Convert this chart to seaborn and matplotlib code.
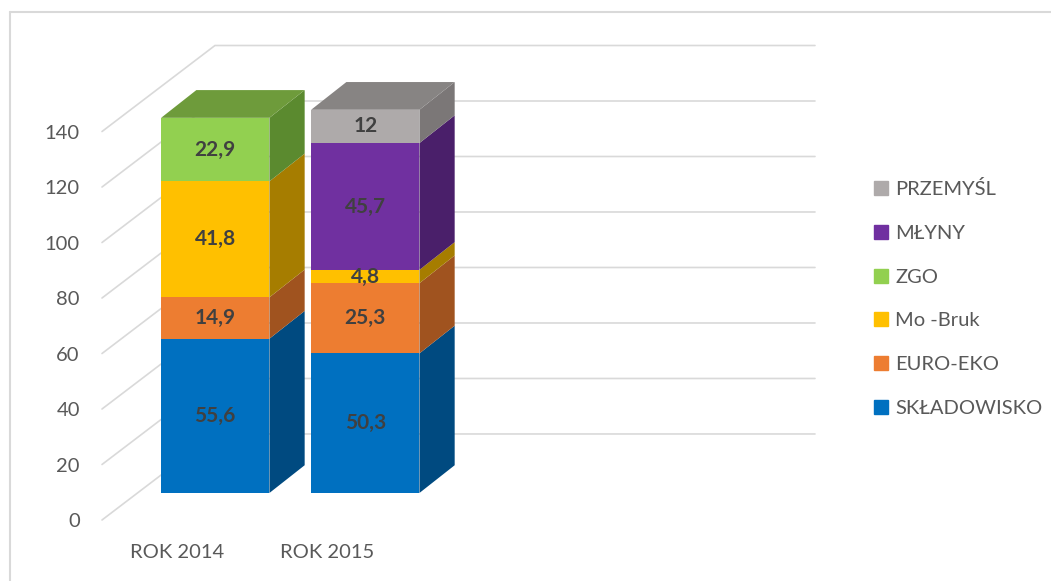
import numpy as np
import pandas as pd
import matplotlib.pyplot as plt
import matplotlib.patches as mpatches
import seaborn as sns

# --- DATA ---
categories = ['ROK 2014', 'ROK 2015', '', '']
series = ['SKŁADOWISKO', 'EURO-EKO', 'Mo -Bruk', 'ZGO', 'MŁYNY', 'PRZEMYŚL']
values_2014 = [55.6, 14.9, 41.8, 22.9, 0, 0]
values_2015 = [50.3, 25.3, 4.8, 0, 45.7, 12]
yticks = [0, 20, 40, 60, 80, 100, 120, 140]

front_colors = ['#0070C0', '#ED7D31', '#FFC000', '#92D050', '#7030A0', '#AEAAAA']
side_colors = ['#004A80', '#A0531F', '#A67D00', '#5B8A2F', '#4A1F6A', '#7B7777']
top_colors = ['#0060A8', '#C96A29', '#D9A300', '#6E9B3B', '#5A2785', '#878483']

# --- 3D-ish geometry (data units) ---
DEPTH_X, DEPTH_Y = 0.753, 31.0    # full floor depth offset
BAR_T = 0.314                     # bar front sits this far back, and is this deep
SHIFT_X, SHIFT_Y = 0.255, DEPTH_Y * BAR_T
DDX, DDY = 0.235, 10.0            # side face offset
BAR_W = 0.722

sns.set_theme(style='white')
plt.rcParams['font.family'] = ['Lato', 'DejaVu Sans']

fig = plt.figure(figsize=(10.51, 5.81), dpi=100)
ax = fig.add_axes([102 / 1051, 61 / 581, 713 / 1051, 474.5 / 581])

table = pd.DataFrame({'year': categories[:2], 'pos': [0.0, 1.0]})
vals = np.array([values_2014, values_2015])   # shape (2, n_series)
cum = np.cumsum(vals, axis=1)

# front faces: cumulative overlay, tallest first
for i in reversed(range(len(series))):
    table['cum'] = cum[:, i]
    table['x'] = table['pos'] + SHIFT_X
    sns.barplot(data=table, x='x', y='cum', native_scale=True, color=front_colors[i],
                saturation=1, width=BAR_W, errorbar=None, bottom=SHIFT_Y,
                linewidth=0, ax=ax, zorder=2)

# side and top faces, labels
for j in range(2):
    xl = j + SHIFT_X - BAR_W / 2
    xr = j + SHIFT_X + BAR_W / 2
    base = 0.0
    top_idx = None
    for i in range(len(series)):
        h = vals[j, i]
        if h <= 0:
            continue
        b0, b1 = base + SHIFT_Y, base + h + SHIFT_Y
        ax.fill([xr, xr + DDX, xr + DDX, xr], [b0, b0 + DDY, b1 + DDY, b1],
                color=side_colors[i], lw=0, zorder=2, clip_on=False)
        txt = f'{h:g}'.replace('.', ',')
        ax.text(j + SHIFT_X, (b0 + b1) / 2, txt, ha='center', va='center',
                fontsize=15, fontweight='bold', color='#404040', zorder=5)
        base += h
        top_idx = i
    T = base + SHIFT_Y
    ax.fill([xl, xr, xr + DDX, xl + DDX], [T, T, T + DDY, T + DDY],
            color=top_colors[top_idx], lw=0, zorder=2, clip_on=False)

# gridlines: diagonal floor/wall edge plus back wall line
x0 = -0.5
x_end = x0 + DEPTH_X + 4.0
for v in yticks:
    ax.plot([x0, x0 + DEPTH_X, x_end], [v, v + DEPTH_Y, v + DEPTH_Y],
            color='#D9D9D9', lw=1.2, zorder=0, clip_on=False)

ax.set_xlim(x0, x_end)
ax.set_ylim(0, 140 + DEPTH_Y)
ax.set_yticks(yticks)
ax.set_yticklabels([str(v) for v in yticks], fontsize=14.5, color='#595959')
ax.set_xticks([0, 1])
ax.set_xticklabels(categories[:2], fontsize=14.5, color='#595959')
ax.tick_params(axis='y', length=0, pad=16)
ax.tick_params(axis='x', length=0, pad=17)
ax.set_xlabel('')
ax.set_ylabel('')
for s in ax.spines.values():
    s.set_visible(False)
ax.patch.set_alpha(0)

# legend (reversed order like Excel)
handles = [mpatches.Patch(color=front_colors[i], label=series[i]) for i in reversed(range(len(series)))]
fig.legend(handles=handles, loc='center left', bbox_to_anchor=(874 / 1051, 1 - 298.5 / 581),
           frameon=False, fontsize=14.5, labelcolor='#595959', handlelength=0.7, handleheight=0.7,
           handletextpad=0.35, labelspacing=1.32, borderpad=0, borderaxespad=0)

# chart border (top and left visible)
fig.add_artist(plt.Line2D([9.5 / 1051, 9.5 / 1051], [0, 1 - 12 / 581], color='#D9D9D9', lw=1.5))
fig.add_artist(plt.Line2D([9.5 / 1051, 1], [1 - 12 / 581, 1 - 12 / 581], color='#D9D9D9', lw=1.5))

fig.savefig('out.png', dpi=100)
